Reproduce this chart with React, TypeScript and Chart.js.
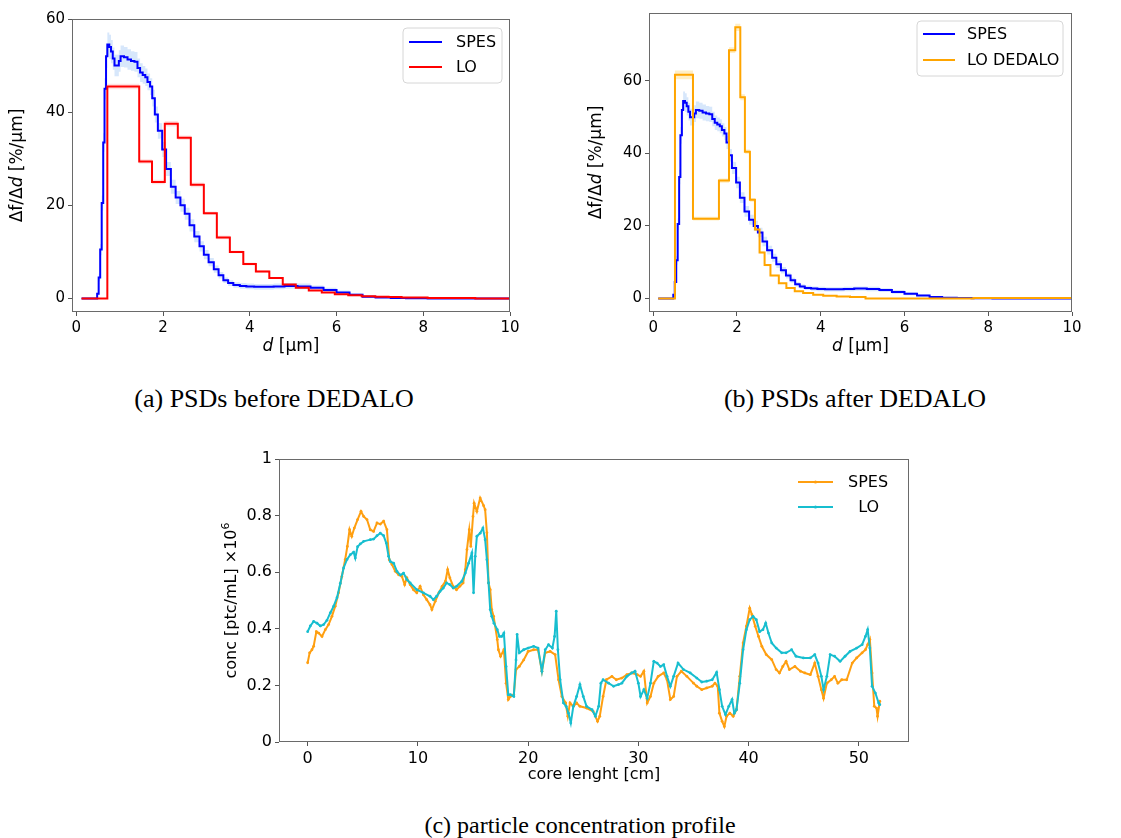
import React, { useEffect, useRef } from "react";
import { Chart, registerables } from "chart.js";

Chart.register(...registerables);
const FONT = "'DejaVu Sans', sans-serif";
Chart.defaults.font.family = FONT;
Chart.defaults.color = "#000";

// ---------- (a)/(b) SPES size distribution (bin left edges, values, band half-width) ----------
const spesD = [
  0.12, 0.48, 0.515, 0.55, 0.585, 0.62, 0.65, 0.685, 0.715, 0.76,
  0.80, 0.84, 0.88, 0.93, 0.98, 1.02, 1.10, 1.18, 1.26, 1.34,
  1.41, 1.47, 1.53, 1.59, 1.64, 1.70, 1.75, 1.81, 1.88, 1.94,
  1.98, 2.07, 2.18, 2.29, 2.40, 2.50, 2.61, 2.72, 2.84, 2.94,
  3.05, 3.17, 3.28, 3.39, 3.50, 3.62, 3.77, 3.92, 4.10, 4.30,
  4.55, 4.80, 5.10, 5.40, 5.70, 6.00, 6.30, 6.60, 6.90, 7.25,
  7.60, 8.10, 10.0,
];
const spesV = [
  0, 1, 4.5, 10.5, 20.5, 33.5, 45, 52, 54.5, 54,
  53, 51.5, 50, 50, 51, 52, 51.8, 51.3, 51, 50.8,
  49.5, 48.5, 48, 47.5, 46.5, 45.5, 43, 39.5, 36, 36,
  32, 27.8, 24, 21.7, 20, 18.2, 15.7, 13.3, 11.2, 9.4,
  7.8, 6.3, 5.0, 3.9, 3.3, 2.9, 2.7, 2.6, 2.5, 2.5,
  2.6, 2.7, 2.6, 2.3, 1.8, 1.3, 0.8, 0.4, 0.2, 0.1,
  0.05, 0, 0,
];
const spesErr = [
  0, 0.3, 0.8, 1.2, 1.6, 2.0, 2.3, 2.5, 2.6, 2.6,
  2.5, 2.4, 2.3, 2.3, 2.3, 2.3, 2.2, 2.2, 2.1, 2.1,
  2.0, 2.0, 1.9, 1.9, 1.8, 1.8, 1.8, 1.7, 1.7, 1.6,
  1.6, 1.5, 1.5, 1.4, 1.4, 1.3, 1.3, 1.2, 1.1, 1.0,
  0.9, 0.8, 0.7, 0.6, 0.6, 0.6, 0.6, 0.6, 0.6, 0.6,
  0.6, 0.6, 0.6, 0.5, 0.5, 0.4, 0.3, 0.2, 0.1, 0.1,
  0.05, 0, 0,
];

// ---------- (a) LO ----------
const loAD = [0.12, 0.715, 1.45, 1.745, 2.04, 2.34, 2.64, 2.94, 3.24, 3.54, 3.85, 4.14, 4.45, 4.76, 5.06, 5.36, 5.66, 5.96, 6.27, 6.58, 6.89, 7.2, 7.5, 8.1, 9.2, 10];
const loAV = [0, 45.5, 29.4, 25, 37.5, 34.5, 24.4, 18.3, 13.1, 10.0, 7.4, 5.8, 4.4, 3.0, 2.3, 1.7, 1.3, 0.9, 0.7, 0.5, 0.4, 0.3, 0.2, 0.1, 0, 0];
const loAErr = [0, 0.6, 0.5, 0.5, 0.6, 0.5, 0.5, 0.4, 0.4, 0.3, 0.3, 0.3, 0.2, 0.2, 0.2, 0.1, 0.1, 0.1, 0.1, 0.1, 0.1, 0.05, 0.05, 0.05, 0, 0];

// ---------- (b) LO DEDALO ----------
const loBD = [0.12, 0.52, 0.95, 1.57, 1.81, 1.96, 2.08, 2.19, 2.31, 2.43, 2.54, 2.66, 2.8, 3.0, 3.18, 3.38, 3.58, 3.82, 4.06, 4.38, 4.7, 5.07, 7.65, 10];
const loBV = [0, 61.7, 22, 32.5, 68.5, 74.8, 55.5, 40.5, 27.2, 19, 12.7, 9.2, 6.3, 4.2, 2.9, 2.0, 1.5, 1.0, 0.7, 0.5, 0.4, 0, 0.1, 0.1];
const loBErr = [0, 1.2, 0.5, 0.6, 0.8, 1.0, 0.8, 0.6, 0.5, 0.4, 0.3, 0.3, 0.2, 0.2, 0.1, 0.1, 0.1, 0.1, 0.05, 0.05, 0.05, 0, 0, 0];

// ---------- (c) concentration profile ----------
const spesCX = [
  0, 0.18, 0.39, 0.54, 0.79, 1.0, 1.3, 1.6, 1.9, 2.2, 2.5, 2.8, 3.1, 3.4, 3.6, 3.8, 4.0, 4.23, 4.53, 4.84,
  5.08, 5.38, 5.68, 5.98, 6.29, 6.59, 6.89, 7.19, 7.4, 7.65, 7.95, 8.25, 8.55, 8.8, 9.0, 9.3, 9.6, 9.9, 10.2, 10.5,
  10.8, 11.1, 11.27, 11.57, 11.9, 12.2, 12.5, 12.7, 12.9, 13.2, 13.5, 13.8, 14.1, 14.3, 14.45, 14.66, 14.8, 15.0, 15.1, 15.35,
  15.65, 15.96, 16.1, 16.26, 16.41, 16.56, 16.7, 16.87, 17.2, 17.3, 17.5, 17.8, 18.0, 18.2, 18.4, 18.7, 18.9, 19.2, 19.6, 20.0,
  20.5, 20.9, 21.25, 21.55, 22.0, 22.45, 22.76, 23.06, 23.4, 23.6, 23.8, 24.1, 24.4, 24.7, 25.3, 25.9, 26.3, 26.5, 26.8, 27.1,
  27.6, 28.0, 28.5, 28.96, 29.4, 29.9, 30.2, 30.5, 30.8, 31.1, 31.4, 31.8, 32.3, 32.6, 32.9, 33.2, 33.5, 33.9, 34.4, 35.0,
  35.3, 35.75, 36.2, 36.7, 36.95, 37.2, 37.35, 37.6, 37.8, 38.0, 38.3, 38.6, 38.9, 39.2, 39.5, 39.8, 40.1, 40.3, 40.6, 40.9,
  41.2, 41.6, 42.1, 42.5, 42.8, 43.1, 43.4, 43.7, 44.2, 44.7, 45.1, 45.6, 46.0, 46.3, 46.6, 46.8, 47.1, 47.5, 47.8, 48.1,
  48.45, 48.9, 49.4, 49.8, 50.3, 50.6, 50.8, 51.0, 51.2, 51.4, 51.6, 51.7, 51.9,
];
const spesCY = [
  0.28, 0.315, 0.326, 0.338, 0.39, 0.385, 0.373, 0.397, 0.415, 0.444, 0.48, 0.527, 0.585, 0.644, 0.691, 0.75, 0.727, 0.756, 0.786, 0.815,
  0.797, 0.786, 0.75, 0.744, 0.774, 0.77, 0.78, 0.75, 0.644, 0.627, 0.603, 0.591, 0.585, 0.556, 0.58, 0.556, 0.538, 0.527, 0.55, 0.52,
  0.503, 0.485, 0.468, 0.497, 0.527, 0.55, 0.568, 0.609, 0.58, 0.55, 0.538, 0.55, 0.562, 0.609, 0.68, 0.75, 0.691, 0.797, 0.844, 0.815,
  0.862, 0.835, 0.821, 0.739, 0.562, 0.538, 0.468, 0.444, 0.362, 0.326, 0.303, 0.326, 0.208, 0.15, 0.161, 0.167, 0.256, 0.267, 0.29, 0.32,
  0.326, 0.326, 0.25, 0.315, 0.32, 0.309, 0.22, 0.161, 0.138, 0.091, 0.138, 0.126, 0.138, 0.126, 0.12, 0.108, 0.073, 0.091, 0.161, 0.22,
  0.232, 0.22, 0.226, 0.238, 0.244, 0.238, 0.232, 0.25, 0.138, 0.161, 0.208, 0.232, 0.244, 0.22, 0.15, 0.161, 0.232, 0.25, 0.232, 0.208,
  0.197, 0.185, 0.191, 0.197, 0.208, 0.197, 0.102, 0.073, 0.055, 0.091, 0.102, 0.091, 0.114, 0.232, 0.35, 0.409, 0.473, 0.45, 0.409, 0.373,
  0.338, 0.309, 0.291, 0.256, 0.244, 0.267, 0.285, 0.256, 0.267, 0.25, 0.244, 0.238, 0.279, 0.232, 0.185, 0.155, 0.208, 0.22, 0.232, 0.208,
  0.22, 0.22, 0.279, 0.297, 0.315, 0.326, 0.344, 0.362, 0.244, 0.126, 0.12, 0.091, 0.144,
];
const loCX = [
  0, 0.24, 0.54, 0.85, 1.15, 1.45, 1.75, 2.05, 2.36, 2.66, 2.96, 3.26, 3.57, 3.87, 4.17, 4.32, 4.53, 4.77, 5.08, 5.68,
  5.98, 6.29, 6.59, 6.89, 7.13, 7.34, 7.49, 7.8, 8.1, 8.4, 8.7, 9.0, 9.3, 9.9, 10.5, 11.1, 11.4, 11.7, 12.0, 12.3,
  12.6, 12.9, 13.2, 13.5, 13.99, 14.3, 14.6, 14.9, 15.05, 15.2, 15.35, 15.65, 15.9, 16.1, 16.26, 16.41, 16.56, 16.7, 16.9, 17.2,
  17.4, 17.6, 17.8, 18.0, 18.2, 18.4, 18.7, 18.9, 19.0, 19.2, 19.6, 20.0, 20.5, 20.9, 21.25, 21.55, 21.85, 22.2, 22.4, 22.55,
  22.7, 22.9, 23.2, 23.45, 23.66, 23.87, 24.1, 24.4, 24.7, 25.0, 25.3, 25.8, 26.1, 26.4, 26.6, 26.8, 27.3, 27.75, 28.2, 28.5,
  28.96, 29.4, 29.7, 30.0, 30.2, 30.5, 30.8, 31.1, 31.4, 31.7, 32.0, 32.3, 32.6, 32.9, 33.2, 33.6, 34.1, 34.7, 35.3, 35.75,
  36.2, 36.7, 37.1, 37.35, 37.6, 37.9, 38.2, 38.5, 38.7, 38.9, 39.2, 39.5, 39.8, 40.1, 40.4, 40.7, 41.0, 41.3, 41.55, 41.8,
  42.1, 42.5, 43.0, 43.4, 43.9, 44.3, 44.97, 45.6, 46.0, 46.3, 46.6, 46.8, 47.1, 47.4, 47.8, 48.3, 48.75, 49.2, 49.8, 50.3,
  50.6, 50.8, 51.0, 51.2, 51.5, 51.8, 51.9,
];
const loCY = [
  0.39, 0.41, 0.426, 0.42, 0.41, 0.415, 0.43, 0.456, 0.48, 0.51, 0.56, 0.615, 0.645, 0.662, 0.671, 0.65, 0.69, 0.70, 0.709, 0.715,
  0.717, 0.729, 0.738, 0.729, 0.703, 0.656, 0.638, 0.632, 0.603, 0.59, 0.597, 0.574, 0.562, 0.538, 0.527, 0.515, 0.503, 0.515, 0.532, 0.544,
  0.562, 0.556, 0.544, 0.55, 0.568, 0.597, 0.632, 0.668, 0.527, 0.656, 0.727, 0.738, 0.756, 0.715, 0.644, 0.562, 0.468, 0.444, 0.42, 0.397,
  0.373, 0.373, 0.385, 0.267, 0.167, 0.167, 0.161, 0.29, 0.38, 0.315, 0.326, 0.332, 0.338, 0.332, 0.25, 0.326, 0.344, 0.332, 0.373, 0.462,
  0.326, 0.22, 0.138, 0.126, 0.102, 0.067, 0.126, 0.161, 0.203, 0.161, 0.126, 0.114, 0.091, 0.126, 0.208, 0.22, 0.208, 0.197, 0.203, 0.208,
  0.232, 0.244, 0.25, 0.208, 0.161, 0.185, 0.155, 0.208, 0.285, 0.279, 0.267, 0.273, 0.232, 0.197, 0.232, 0.279, 0.256, 0.244, 0.226, 0.212,
  0.215, 0.22, 0.246, 0.185, 0.126, 0.097, 0.126, 0.15, 0.102, 0.114, 0.208, 0.326, 0.397, 0.432, 0.444, 0.432, 0.39, 0.397, 0.42, 0.385,
  0.35, 0.332, 0.315, 0.315, 0.326, 0.303, 0.297, 0.297, 0.309, 0.279, 0.232, 0.185, 0.232, 0.309, 0.303, 0.285, 0.303, 0.32, 0.332, 0.344,
  0.373, 0.397, 0.332, 0.197, 0.173, 0.138, 0.132,
];

// tick values
const psdXTicks = [0, 2, 4, 6, 8, 10];
const psdYTicks = [0, 20, 40, 60];
const concXTicks = [0, 10, 20, 30, 40, 50];
const concYTicks = [0, 0.2, 0.4, 0.6, 0.8, 1];

const BLUE = "#0000ff";
const RED = "#ff0000";
const ORANGE = "#ffa500";
const C_ORANGE = "#ff9f10";
const C_CYAN = "#17becf";
const SPINE = "#6a6a6a";

// ---------- plugin: frame, rich axis titles, matplotlib-like legend ----------
const decor = {
  id: "decor",
  afterDraw(chart: any, _a: any, o: any) {
    const { ctx, chartArea: a } = chart;
    ctx.save();
    ctx.strokeStyle = SPINE;
    ctx.lineWidth = 1;
    const L = Math.round(a.left) + 0.5, T = Math.round(a.top) + 0.5;
    const R = Math.round(a.right) - 0.5, B = Math.round(a.bottom) - 0.5;
    ctx.strokeRect(L, T, R - L, B - T);

    const drawRich = (segs: any[], cx: number, cy: number, rot: number, size: number) => {
      ctx.save();
      ctx.translate(cx, cy);
      ctx.rotate(rot);
      const fonts = segs.map((s: any) => `${s.italic ? "italic " : ""}${s.sup ? Math.round(size * 0.7) : size}px ${FONT}`);
      let w = 0;
      segs.forEach((s: any, i: number) => { ctx.font = fonts[i]; w += ctx.measureText(s.t).width; });
      let x = -w / 2;
      ctx.textBaseline = "middle";
      ctx.textAlign = "left";
      ctx.fillStyle = "#000";
      segs.forEach((s: any, i: number) => {
        ctx.font = fonts[i];
        ctx.fillText(s.t, x, s.sup ? -size * 0.38 : 0);
        x += ctx.measureText(s.t).width;
      });
      ctx.restore();
    };
    drawRich(o.xTitle, (a.left + a.right) / 2, a.bottom + o.xOff, 0, o.titleSize);
    drawRich(o.yTitle, a.left - o.yOff, (a.top + a.bottom) / 2, -Math.PI / 2, o.titleSize);

    const lg = o.legend;
    const x0 = a.right - lg.right - lg.w;
    const y0 = a.top + lg.top;
    if (lg.frame) {
      const r = 4, w = lg.w, h = lg.h;
      ctx.beginPath();
      ctx.moveTo(x0 + r, y0);
      ctx.lineTo(x0 + w - r, y0);
      ctx.quadraticCurveTo(x0 + w, y0, x0 + w, y0 + r);
      ctx.lineTo(x0 + w, y0 + h - r);
      ctx.quadraticCurveTo(x0 + w, y0 + h, x0 + w - r, y0 + h);
      ctx.lineTo(x0 + r, y0 + h);
      ctx.quadraticCurveTo(x0, y0 + h, x0, y0 + h - r);
      ctx.lineTo(x0, y0 + r);
      ctx.quadraticCurveTo(x0, y0, x0 + r, y0);
      ctx.closePath();
      ctx.fillStyle = "rgba(255,255,255,0.8)";
      ctx.fill();
      ctx.strokeStyle = "#d6d6d6";
      ctx.lineWidth = 1;
      ctx.stroke();
    }
    lg.items.forEach((it: any, i: number) => {
      const cy = y0 + lg.first + i * lg.row;
      ctx.strokeStyle = it.color;
      ctx.lineWidth = lg.lw;
      ctx.beginPath();
      ctx.moveTo(x0 + lg.padL, cy);
      ctx.lineTo(x0 + lg.padL + lg.len, cy);
      ctx.stroke();
      if (lg.marker) {
        ctx.fillStyle = it.color;
        ctx.beginPath();
        ctx.arc(x0 + lg.padL + lg.len / 2, cy, 1.6, 0, Math.PI * 2);
        ctx.fill();
      }
      ctx.fillStyle = "#000";
      ctx.font = `${lg.size}px ${FONT}`;
      ctx.textBaseline = "middle";
      ctx.textAlign = "left";
      ctx.fillText(it.label, x0 + lg.padL + lg.len + lg.gap, cy + 1);
    });
    ctx.restore();
  },
};

const pts = (xs: number[], ys: number[]) => xs.map((x, i) => ({ x, y: ys[i] }));
const shift = (xs: number[], ys: number[], e: number[], s: number) => xs.map((x, i) => ({ x, y: ys[i] + s * e[i] }));

function bandSets(xs: number[], ys: number[], e: number[], fillColor: string) {
  return [
    { data: shift(xs, ys, e, 1), stepped: "before", borderWidth: 0, pointRadius: 0, fill: false, order: 10, borderColor: "rgba(0,0,0,0)" },
    { data: shift(xs, ys, e, -1), stepped: "before", borderWidth: 0, pointRadius: 0, fill: "-1", backgroundColor: fillColor, order: 10, borderColor: "rgba(0,0,0,0)" },
  ];
}

function makeScales(box: any, area: any, xr: any, yr: any, size: number) {
  const common = (ticksArr: number[]) => ({
    type: "linear",
    afterBuildTicks: (s: any) => { s.ticks = ticksArr.map((v) => ({ value: v })); },
    ticks: { font: { size }, color: "#000", padding: 3, maxRotation: 0, autoSkip: false, callback: (v: any) => String(v) },
    grid: { drawOnChartArea: false, drawTicks: true, tickLength: 4, tickColor: "#555", tickWidth: 1 },
    border: { display: false },
  });
  return {
    x: { ...common(xr.ticks), min: xr.min, max: xr.max, afterFit: (s: any) => { s.height = box.y + box.h - area.b; } },
    y: { ...common(yr.ticks), min: yr.min, max: yr.max, afterFit: (s: any) => { s.width = area.l - box.x; } },
  };
}

function baseOptions(box: any, area: any, xr: any, yr: any, size: number, decorOpts: any) {
  return {
    animation: false,
    responsive: true,
    maintainAspectRatio: false,
    layout: { padding: { top: area.t - box.y, right: box.x + box.w - area.r, left: 0, bottom: 0 } },
    scales: makeScales(box, area, xr, yr, size),
    plugins: { legend: { display: false }, tooltip: { enabled: false }, decor: decorOpts },
  };
}

const dTitle = [{ t: "d", italic: true }, { t: " [µm]" }];
const yPsdTitle = [{ t: "Δf/Δ" }, { t: "d", italic: true }, { t: " [%/µm]" }];

function ChartBox({ box, build }: any) {
  const ref = useRef<HTMLCanvasElement | null>(null);
  useEffect(() => {
    const ch = new Chart(ref.current as any, build());
    return () => ch.destroy();
  }, []);
  return (
    <div style={{ position: "absolute", left: box.x, top: box.y, width: box.w, height: box.h }}>
      <canvas ref={ref} />
    </div>
  );
}

const boxA = { x: 0, y: 0, w: 540, h: 370 };
const areaA = { l: 72, t: 19, r: 510, b: 312 };
const boxB = { x: 560, y: 0, w: 540, h: 370 };
const areaB = { l: 649, t: 13, r: 1072, b: 312 };
const boxC = { x: 200, y: 440, w: 730, h: 360 };
const areaC = { l: 279, t: 459, r: 909, b: 742 };

function buildA() {
  return {
    type: "line",
    data: {
      datasets: [
        ...bandSets(spesD, spesV, spesErr, "rgba(110,170,240,0.28)"),
        ...bandSets(loAD, loAV, loAErr, "rgba(255,110,110,0.2)"),
        { label: "SPES", data: pts(spesD, spesV), stepped: "before", borderColor: BLUE, borderWidth: 2, pointRadius: 0, fill: false, order: 5 },
        { label: "LO", data: pts(loAD, loAV), stepped: "before", borderColor: RED, borderWidth: 2, pointRadius: 0, fill: false, order: 1 },
      ],
    },
    options: baseOptions(boxA, areaA, { min: -0.1, max: 10, ticks: psdXTicks }, { min: -2.9, max: 60, ticks: psdYTicks }, 15, {
      xTitle: dTitle, yTitle: yPsdTitle, xOff: 35, yOff: 54, titleSize: 17,
      legend: { frame: true, right: 8, top: 9, w: 99, h: 55, first: 14, row: 25, padL: 6, len: 33, gap: 14, lw: 2, size: 16, marker: false,
        items: [{ label: "SPES", color: BLUE }, { label: "LO", color: RED }] },
    }),
    plugins: [decor],
  };
}

function buildB() {
  return {
    type: "line",
    data: {
      datasets: [
        ...bandSets(spesD, spesV, spesErr, "rgba(110,170,240,0.28)"),
        ...bandSets(loBD, loBV, loBErr, "rgba(255,205,90,0.35)"),
        { label: "SPES", data: pts(spesD, spesV), stepped: "before", borderColor: BLUE, borderWidth: 2, pointRadius: 0, fill: false, order: 5 },
        { label: "LO DEDALO", data: pts(loBD, loBV), stepped: "before", borderColor: ORANGE, borderWidth: 2, pointRadius: 0, fill: false, order: 1 },
      ],
    },
    options: baseOptions(boxB, areaB, { min: -0.1, max: 10, ticks: psdXTicks }, { min: -3.75, max: 78.75, ticks: psdYTicks }, 15, {
      xTitle: dTitle, yTitle: yPsdTitle, xOff: 35, yOff: 52, titleSize: 17,
      legend: { frame: true, right: 9, top: 8, w: 146, h: 55, first: 13, row: 26, padL: 6, len: 32, gap: 12, lw: 2, size: 16, marker: false,
        items: [{ label: "SPES", color: BLUE }, { label: "LO DEDALO", color: ORANGE }] },
    }),
    plugins: [decor],
  };
}

function buildC() {
  return {
    type: "line",
    data: {
      datasets: [
        { label: "SPES", data: pts(spesCX, spesCY), borderColor: C_ORANGE, backgroundColor: C_ORANGE, borderWidth: 2, pointRadius: 1.4, pointBorderWidth: 0, fill: false, tension: 0, order: 5 },
        { label: "LO", data: pts(loCX, loCY), borderColor: C_CYAN, backgroundColor: C_CYAN, borderWidth: 2, pointRadius: 1.4, pointBorderWidth: 0, fill: false, tension: 0, order: 1 },
      ],
    },
    options: baseOptions(boxC, areaC, { min: -2.6, max: 54.55, ticks: concXTicks }, { min: 0, max: 1, ticks: concYTicks }, 16, {
      xTitle: [{ t: "core lenght [cm]" }], yTitle: [{ t: "conc [ptc/mL] ×10" }, { t: "6", sup: true }], xOff: 33, yOff: 47, titleSize: 16,
      legend: { frame: false, right: 8, top: 9, w: 109, h: 55, first: 14, row: 25, padL: 6, len: 35, gap: 15, lw: 1.8, size: 16, marker: true,
        items: [{ label: "SPES", color: C_ORANGE }, { label: "  LO", color: C_CYAN }] },
    }),
    plugins: [decor],
  };
}

const capStyle: any = {
  position: "absolute",
  textAlign: "center",
  fontFamily: "'Liberation Serif', 'Times New Roman', serif",
  lineHeight: "30px",
  color: "#000",
  whiteSpace: "nowrap",
};

export default function App() {
  return (
    <div style={{ position: "absolute", left: 0, top: 0, width: 1121, height: 838, background: "#fff", overflow: "hidden" }}>
      <ChartBox box={boxA} build={buildA} />
      <ChartBox box={boxB} build={buildB} />
      <ChartBox box={boxC} build={buildC} />
      <div style={{ ...capStyle, fontSize: 26, left: 24, width: 500, top: 384 }}>(a) PSDs before DEDALO</div>
      <div style={{ ...capStyle, fontSize: 26, left: 605, width: 500, top: 384 }}>(b) PSDs after DEDALO</div>
      <div style={{ ...capStyle, fontSize: 24, left: 330, width: 500, top: 810 }}>(c) particle concentration profile</div>
    </div>
  );
}
